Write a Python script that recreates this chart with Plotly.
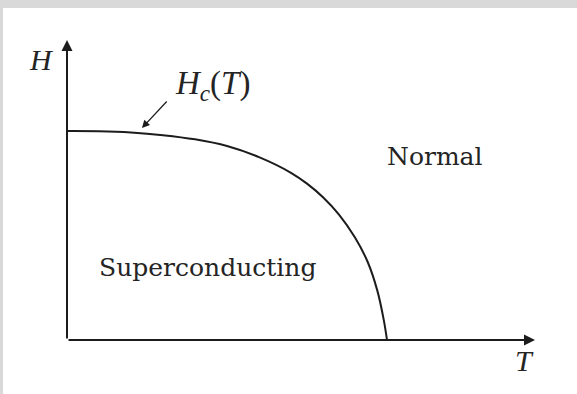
import plotly.graph_objects as go

# critical field curve (T / Tc, H / H0)
T_CURVE = [0.0, 0.10, 0.20, 0.30, 0.40, 0.50, 0.60, 0.70, 0.75, 0.80,
           0.85, 0.90, 0.94, 0.97, 0.99, 1.0]
H_CURVE = [1.0, 0.999, 0.993, 0.980, 0.960, 0.928, 0.875, 0.800, 0.748, 0.683,
           0.600, 0.490, 0.372, 0.235, 0.095, 0.0]

REGION_LABELS = ['Normal', 'Superconducting']
REGION_T = [1.147, 0.44]
REGION_H = [0.88, 0.349]

LINE_COLOR = '#1c1c1c'
TEXT_COLOR = '#242424'
SERIF = 'Liberation Serif'

fig = go.Figure()

fig.add_trace(go.Scatter(
    x=T_CURVE,
    y=H_CURVE,
    mode='lines',
    line={'color': LINE_COLOR, 'width': 2, 'shape': 'spline', 'smoothing': 1},
    hoverinfo='skip',
    showlegend=False,
))

# axes drawn as arrows
axis_arrow = {'showarrow': True, 'text': '', 'axref': 'x', 'ayref': 'y',
              'arrowhead': 2, 'arrowsize': 1.1, 'arrowwidth': 2,
              'arrowcolor': LINE_COLOR}
fig.add_annotation(x=0, y=1.435, ax=0, ay=0, **axis_arrow)
fig.add_annotation(x=1.4625, y=0, ax=0, ay=0, **axis_arrow)

# pointer to the curve
fig.add_annotation(x=0.234, y=1.014, ax=0.316, ay=1.148, axref='x', ayref='y',
                   showarrow=True, text='', arrowhead=2, arrowsize=1.2,
                   arrowwidth=1.3, arrowcolor=LINE_COLOR)

fig.add_annotation(x=-0.081, y=1.344, text='<i>H</i>', showarrow=False,
                   font={'family': SERIF, 'size': 30, 'color': TEXT_COLOR})
fig.add_annotation(x=1.431, y=-0.1, text='<i>T</i>', showarrow=False,
                   font={'family': SERIF, 'size': 30, 'color': TEXT_COLOR})
fig.add_annotation(x=0.455, y=1.22, text='<i>H</i><sub><i>c</i></sub>(<i>T</i>)',
                   showarrow=False, font={'family': SERIF, 'size': 33, 'color': TEXT_COLOR})

for label, t, h in zip(REGION_LABELS, REGION_T, REGION_H):
    fig.add_annotation(x=t, y=h, text=label, showarrow=False,
                       font={'family': 'DejaVu Serif', 'size': 25, 'color': TEXT_COLOR})

fig.update_layout(
    width=577,
    height=394,
    margin={'l': 3, 'r': 0, 't': 8, 'b': 0},
    paper_bgcolor='#d9d9d9',
    plot_bgcolor='white',
    xaxis={'visible': False, 'range': [-0.2, 1.59375], 'fixedrange': True},
    yaxis={'visible': False, 'range': [-0.2584, 1.5885], 'fixedrange': True},
)

fig.write_html('out.html', config={'displayModeBar': False},
               post_script="document.body.style.margin='0';")
